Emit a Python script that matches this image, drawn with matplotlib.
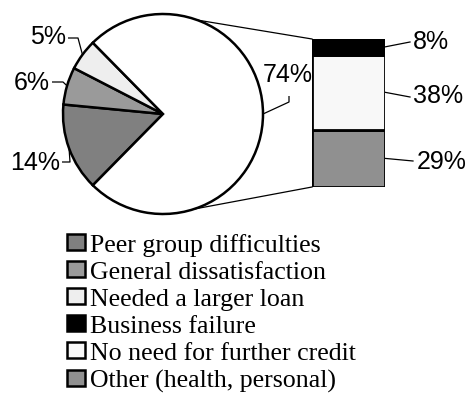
import matplotlib
matplotlib.use("Agg")
import matplotlib.pyplot as plt
from matplotlib.patches import Patch
import numpy as np

# Reasons for leaving the programme (share of respondents, %)
pie_labels = ["Peer group difficulties", "General dissatisfaction", "Needed a larger loan"]
pie_values = [14, 6, 5]
pie_colors = ["#808080", "#9a9a9a", "#eeeeee"]
rest_value = 74
rest_color = "#ffffff"

# Breakdown of the largest slice
bar_labels = ["Other (health, personal)", "No need for further credit", "Business failure"]
bar_values = [29, 38, 8]
bar_colors = ["#909090", "#f8f8f8", "#000000"]

W, H = 470, 402
fig = plt.figure(figsize=(W / 100, H / 100), dpi=100)
ax = fig.add_axes([0, 0, 1, 1])


def py(y):
    """Convert a top-down pixel row to the axes' y coordinate."""
    return H - y


sans = "Liberation Sans"
serif = "Liberation Serif"
fs = 18

# Pie
cx, cy, r = 163, py(115), 100
vals = pie_values + [rest_value]
cols = pie_colors + [rest_color]
frac_rest = rest_value / sum(vals)
wedges, _ = ax.pie(vals, colors=cols, radius=r, center=(cx, cy),
                   startangle=360 - 0.5 * frac_rest * 360, counterclock=False,
                   wedgeprops=dict(edgecolor="black", linewidth=1.8),
                   frame=True)
ax.set_xlim(0, W)
ax.set_ylim(0, H)
ax.set_aspect("equal")
ax.axis("off")


def edge_point(w):
    a = np.deg2rad(0.5 * (w.theta1 + w.theta2))
    return cx + r * np.cos(a), cy + r * np.sin(a)


# Slice labels with elbow leaders: (text position, start, elbow)
slice_text = [((35, 163), (62, 163), (70, 163)),
              ((32, 83), (52, 83), (63, 83)),
              ((48, 37), (68, 39), (78, 39)),
              ((288, 75), (289, 97), (289, 103))]
for w, v, (tp, p0, p1) in zip(wedges, vals, slice_text):
    ex, ey = edge_point(w)
    ax.plot([p0[0], p1[0], ex], [py(p0[1]), py(p1[1]), ey],
            color="black", lw=0.9, solid_capstyle="butt")
    ax.text(tp[0], py(tp[1]), f"{v}%", ha="center", va="center",
            fontsize=fs, family=sans)

# Stacked bar for the breakdown
bx0, bx1, by0, by1 = 312, 385, 40, 188
axb = fig.add_axes([bx0 / W, 1 - by1 / H, (bx1 - bx0) / W, (by1 - by0) / H])
bottom = 0
for v, c in zip(bar_values, bar_colors):
    axb.bar(0, v, bottom=bottom, width=1, color=c, edgecolor="black", linewidth=2)
    bottom += v
axb.set_xlim(-0.5, 0.5)
axb.set_ylim(0, sum(bar_values))
axb.axis("off")

fig.canvas.draw()
to_main = axb.transData + ax.transData.inverted()

bar_text = [((442, 162), (413, 162)),
            ((438, 96), (410, 98)),
            ((431, 42), (410, 43))]
bottom = 0
for v, (tp, p1) in zip(bar_values, bar_text):
    sx, sy = to_main.transform((0.5, bottom + v / 2))
    ax.plot([sx, p1[0]], [sy, py(p1[1])], color="black", lw=0.9)
    ax.text(tp[0], py(tp[1]), f"{v}%", ha="center", va="center",
            fontsize=fs, family=sans)
    bottom += v

# Connector lines from the pie to the bar
top_left = to_main.transform((-0.5, sum(bar_values)))
bot_left = to_main.transform((-0.5, 0))
for ang, (tx, ty) in [(70, top_left), (-72, bot_left)]:
    a = np.deg2rad(ang)
    ax.plot([cx + r * np.cos(a), tx], [cy + r * np.sin(a), ty],
            color="black", lw=0.9)

# Legend
handles = [Patch(facecolor=c, edgecolor="black", linewidth=1.8)
           for c in pie_colors + bar_colors[::-1]]
names = pie_labels + bar_labels[::-1]
fig.legend(handles, names, loc="upper left",
           bbox_to_anchor=(67 / W, 1 - 234 / H), frameon=False,
           prop=dict(family=serif, size=18.6), handlelength=0.68,
           handleheight=0.58, handletextpad=0.2, labelspacing=0.19,
           borderpad=0, borderaxespad=0)

fig.savefig("out.png", dpi=100)
